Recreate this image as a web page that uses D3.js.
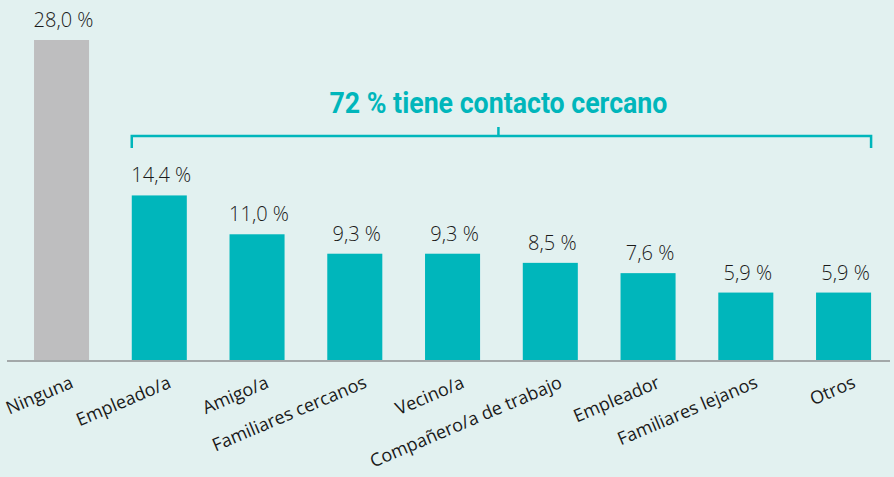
<!DOCTYPE html>
<html>
<head>
<meta charset="utf-8">
<script src="https://cdn.jsdelivr.net/npm/d3@7"></script>
<style>
  body { margin: 0; background: #e2f1f0; }
  svg { display: block; }
</style>
</head>
<body>
<svg width="894" height="477"></svg>
<script>
// datos
const categories = ["Ninguna", "Empleado/a", "Amigo/a", "Familiares cercanos", "Vecino/a",
                    "Compañero/a de trabajo", "Empleador", "Familiares lejanos", "Otros"];
const values = [28.0, 14.4, 11.0, 9.3, 9.3, 8.5, 7.6, 5.9, 5.9];
const valueLabels = ["28,0 %", "14,4 %", "11,0 %", "9,3 %", "9,3 %", "8,5 %", "7,6 %", "5,9 %", "5,9 %"];
const bracketTitle = "72 % tiene contacto cercano";

const teal = "#00b6bb",
      grey = "#bebebf";

const svg = d3.select("svg"),
    width = +svg.attr("width"),
    height = +svg.attr("height");

svg.append("rect")
    .attr("width", width)
    .attr("height", height)
    .attr("fill", "#e2f1f0");

const x = d3.scaleBand()
    .domain(categories)
    .range([-8.7, 913.8])
    .paddingInner(0.437)
    .paddingOuter(0.437);

const y = d3.scaleLinear()
    .domain([0, 28])
    .range([360, 40]);

// barras
svg.append("g")
  .selectAll("rect")
  .data(categories)
  .join("rect")
    .attr("x", d => x(d))
    .attr("y", (d, i) => y(values[i]))
    .attr("width", x.bandwidth())
    .attr("height", (d, i) => y(0) - y(values[i]))
    .attr("fill", (d, i) => i === 0 ? grey : teal);

// etiquetas de valor
svg.append("g")
  .selectAll("text")
  .data(categories)
  .join("text")
    .attr("x", d => x(d) + x.bandwidth() / 2 + 2)
    .attr("y", (d, i) => y(values[i]) - 13)
    .attr("text-anchor", "middle")
    .attr("font-family", "'Open Sans', sans-serif")
    .attr("font-weight", 300)
    .attr("font-size", 20)
    .attr("fill", "#1a1a1a")
    .text((d, i) => valueLabels[i]);

// linea base
svg.append("line")
    .attr("x1", 7)
    .attr("x2", 890)
    .attr("y1", y(0) + 1)
    .attr("y2", y(0) + 1)
    .attr("stroke", "#a3a8a9")
    .attr("stroke-width", 2);

// eje x (etiquetas giradas)
const xAxis = svg.append("g")
    .attr("transform", "translate(0," + y(0) + ")")
    .call(d3.axisBottom(x).tickSize(0).tickPadding(0));
xAxis.select(".domain").remove();
xAxis.selectAll("text")
    .attr("font-family", "'Open Sans', sans-serif")
    .attr("font-size", 18)
    .attr("fill", "#1a1a1a")
    .attr("text-anchor", "end")
    .attr("dy", 0)
    .attr("transform", "translate(13,27) rotate(-23)");

// corchete
const bx0 = x(categories[1]),
      bx1 = x(categories[categories.length - 1]) + x.bandwidth(),
      by = 136,
      bmid = (bx0 + bx1) / 2 - 3;

svg.append("path")
    .attr("d", "M" + bx0 + "," + (by + 12) + "V" + by + "H" + bx1 + "V" + (by + 12)
             + "M" + bmid + "," + by + "V" + (by - 9))
    .attr("fill", "none")
    .attr("stroke", teal)
    .attr("stroke-width", 2.5);

svg.append("text")
    .attr("x", bmid)
    .attr("y", 113)
    .attr("text-anchor", "middle")
    .attr("font-family", "'Liberation Sans Narrow', 'Roboto', sans-serif")
    .attr("font-weight", "bold")
    .attr("font-size", 30)
    .attr("textLength", 338)
    .attr("lengthAdjust", "spacingAndGlyphs")
    .attr("fill", teal)
    .text(bracketTitle);
</script>
</body>
</html>
